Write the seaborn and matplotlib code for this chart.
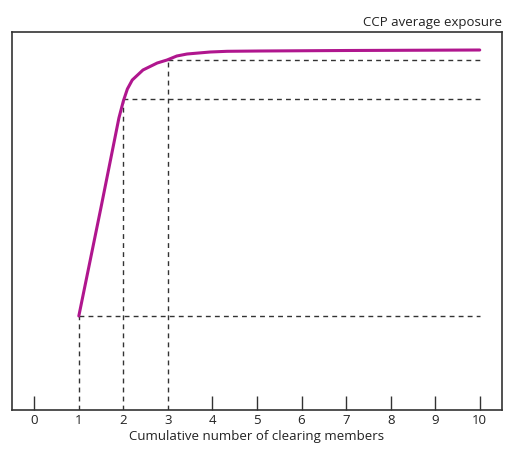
import seaborn as sns
import matplotlib.pyplot as plt
import pandas as pd

# curve
members = [1.0, 1.5, 1.9, 2.0, 2.09, 2.2, 2.44, 2.76, 2.98, 3.2, 3.43, 3.95, 4.33, 5.07, 7.0, 10.0]
exposure = [94, 203, 292, 309, 321, 330, 340, 347, 350, 354, 356, 358, 358.7, 359, 359.5, 360]

# reference points marked by the dashed guides
guide_x = [1, 2, 3]
guide_y = [94, 311, 350]

tick_values = list(range(11))
tick_labels = [str(v) for v in tick_values]

df = pd.DataFrame({"members": members, "exposure": exposure})

sns.set_style("white")
plt.rcParams["font.family"] = ["Open Sans", "DejaVu Sans"]

fig = plt.figure(figsize=(5.07, 4.49), dpi=100)
ax = fig.add_axes([12 / 507, 1 - 410 / 449, 490 / 507, 378 / 449])

for gx, gy in zip(guide_x, guide_y):
    ax.plot([gx, gx], [0, gy], ls=(0, (3.5, 3)), color="#333333", lw=1)
    ax.plot([gx, 10], [gy, gy], ls=(0, (3.5, 3)), color="#333333", lw=1)

sns.lineplot(data=df, x="members", y="exposure", color="#b0168e", lw=2.2, ax=ax)

ax.set_xlim(-0.5, 10.5)
ax.set_ylim(0, 378)
ax.set_yticks([])
ax.set_xticks(tick_values)
ax.set_xticklabels(tick_labels, fontsize=9.5, color="#222222")
ax.tick_params(axis="x", direction="in", length=10, width=1, color="#333333", pad=3, bottom=True)
for t in ax.xaxis.get_major_ticks():
    if t.get_loc() in guide_x:
        t.tick1line.set_visible(False)

ax.set_xlabel("Cumulative number of clearing members", fontsize=9.5, color="#222222", labelpad=2)
ax.set_ylabel("")
ax.set_title("CCP average exposure", loc="right", fontsize=9.5, color="#222222", pad=4)

for s in ax.spines.values():
    s.set_color("#333333")
    s.set_linewidth(1.2)

fig.savefig("out.png", dpi=100)
